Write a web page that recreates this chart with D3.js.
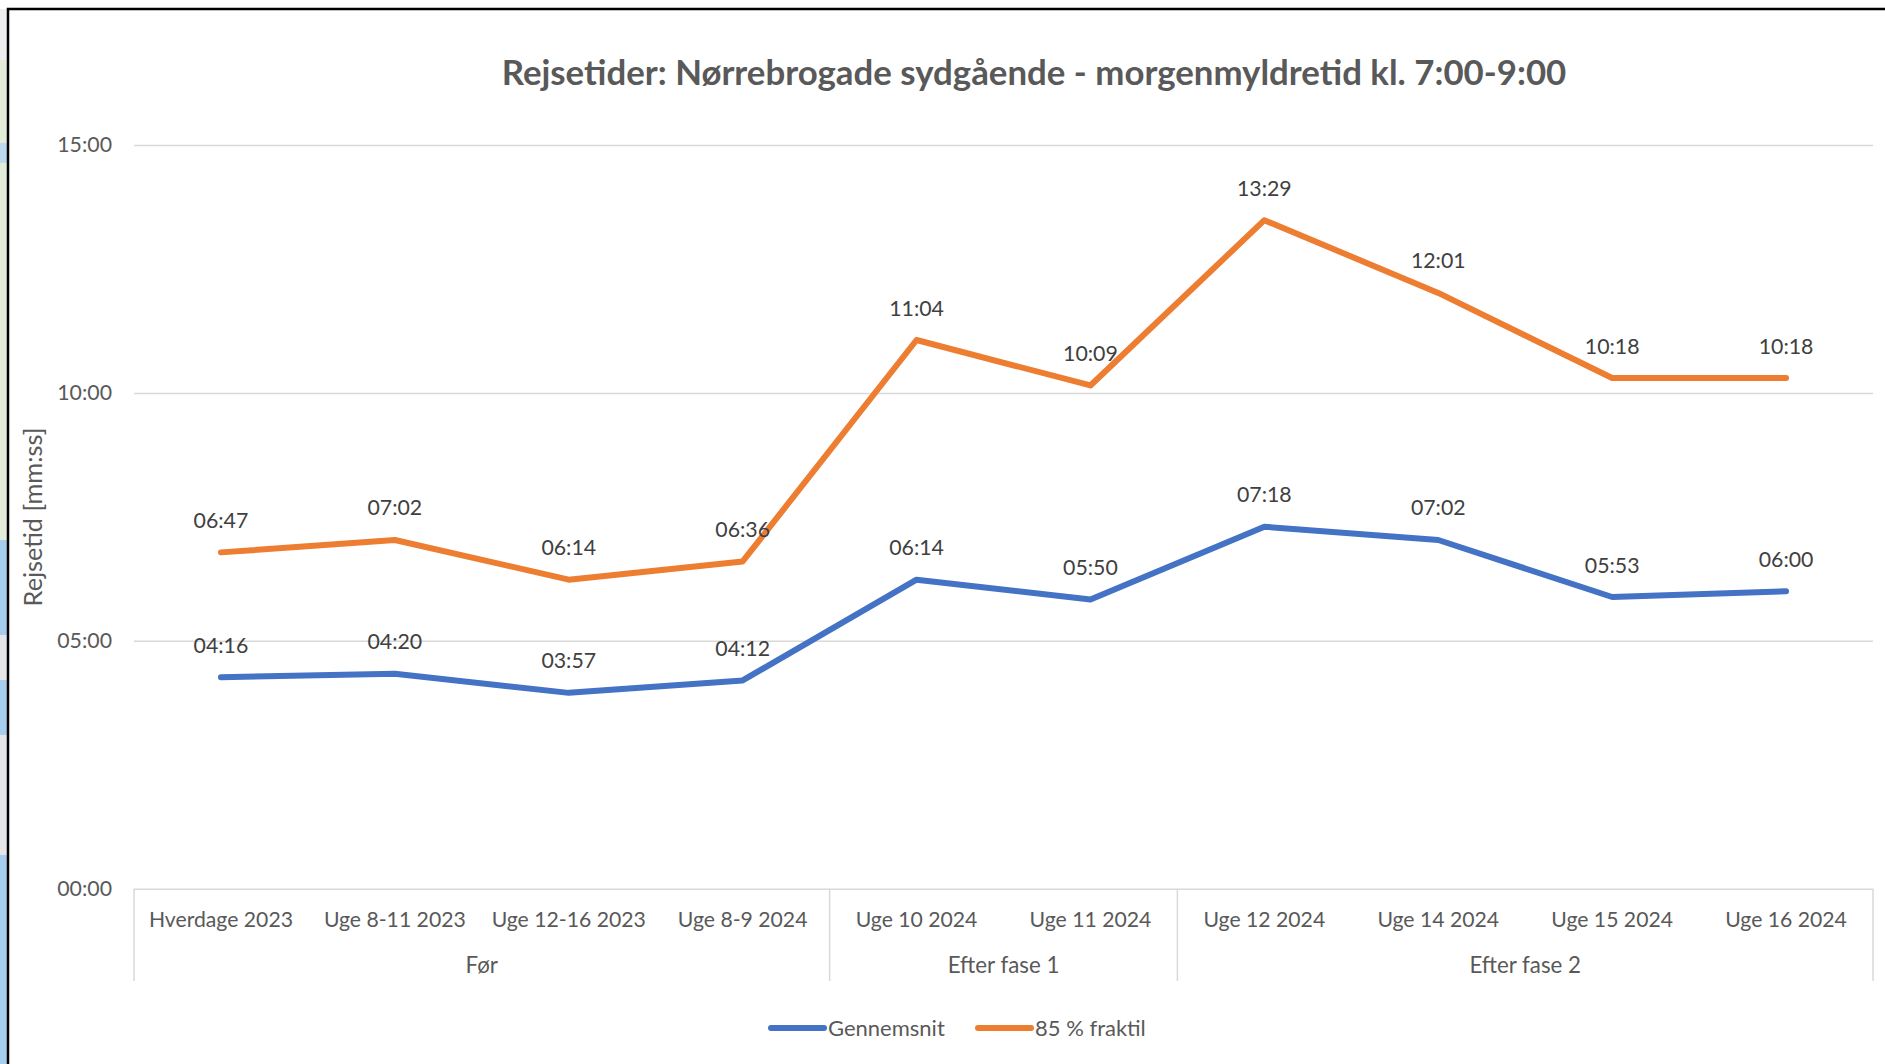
<!DOCTYPE html>
<html>
<head>
<meta charset="utf-8">
<script src="https://cdn.jsdelivr.net/npm/d3@7"></script>
<style>
  html, body { margin: 0; padding: 0; background: #fff; }
  svg { display: block; }
  text { font-family: Lato, "Noto Sans", sans-serif; }
</style>
</head>
<body>
<svg></svg>
<script>
const width = 1885
const height = 1064

const categories = ['Hverdage 2023', 'Uge 8-11 2023', 'Uge 12-16 2023', 'Uge 8-9 2024', 'Uge 10 2024',
    'Uge 11 2024', 'Uge 12 2024', 'Uge 14 2024', 'Uge 15 2024', 'Uge 16 2024']

const groups = ['Før', 'Efter fase 1', 'Efter fase 2']
const groupSizes = [4, 2, 4]

// values as mm:ss, same as the labels on the chart
const gennemsnit = ['04:16', '04:20', '03:57', '04:12', '06:14', '05:50', '07:18', '07:02', '05:53', '06:00']
const fraktil = ['06:47', '07:02', '06:14', '06:36', '11:04', '10:09', '13:29', '12:01', '10:18', '10:18']

const yTicks = ['00:00', '05:00', '10:00', '15:00']

const toSeconds = s => {
    const [m, sec] = s.split(':').map(Number)
    return m * 60 + sec
}

const series = [
    { name: 'Gennemsnit', values: gennemsnit, color: '#4472c4' },
    { name: '85 % fraktil', values: fraktil, color: '#ed7d31' }
]

// the map showing behind the screenshot, left of the frame
const backdrop = [
    [9, 60, '#eeeef1'], [60, 143, '#e3ecd9'], [143, 163, '#bcd9ee'], [163, 540, '#e3ecd9'],
    [540, 635, '#a6cdec'], [635, 680, '#e6e6e8'], [680, 735, '#a6cdec'], [735, 855, '#e6e6e8'],
    [855, 1064, '#a6cdec']
]

const plot = { left: 134, right: 1873, top: 145, bottom: 888.7, axisBottom: 981 }

const svg = d3.select('svg')
    .attr('width', width)
    .attr('height', height)
    .attr('viewBox', [0, 0, width, height])

svg.append('g').selectAll('rect')
    .data(backdrop)
    .enter()
    .append('rect')
    .attr('x', 0)
    .attr('y', d => d[0])
    .attr('width', 8)
    .attr('height', d => d[1] - d[0])
    .attr('fill', d => d[2])

// black frame of the screenshot
svg.append('path')
    .attr('d', d3.line()([[8, height], [8, 9], [width, 9]]))
    .attr('fill', 'none')
    .attr('stroke', '#000')
    .attr('stroke-width', 2.5)

const x = d3.scaleBand()
    .domain(categories)
    .range([plot.left, plot.right])

const y = d3.scaleLinear()
    .domain([0, 900])
    .range([plot.bottom, plot.top])

// y axis + gridlines
const yAxis = svg.append('g')
    .attr('transform', `translate(${plot.left},0)`)
    .call(d3.axisLeft(y)
        .tickValues(yTicks.map(toSeconds))
        .tickFormat((d, i) => yTicks[i])
        .tickSize(-(plot.right - plot.left))
        .tickPadding(22))

yAxis.select('.domain').remove()
yAxis.selectAll('line').attr('stroke', '#d9d9d9').attr('stroke-width', 1.5)
yAxis.selectAll('text')
    .attr('fill', '#595959')
    .style('font-size', '21.3px')

// category labels
const xAxis = svg.append('g')
    .attr('transform', `translate(0,${plot.bottom})`)
    .call(d3.axisBottom(x).tickSize(0).tickPadding(23))

xAxis.select('.domain').remove()
xAxis.selectAll('text')
    .attr('fill', '#595959')
    .style('font-size', '21.2px')

// group separators and labels
let start = 0
const groupSpans = groupSizes.map((n, i) => {
    const span = { name: groups[i], x0: plot.left + start * x.bandwidth(), x1: plot.left + (start + n) * x.bandwidth() }
    start += n
    return span
})

const separators = [plot.left].concat(groupSpans.map(d => d.x1))

svg.append('g').selectAll('line')
    .data(separators)
    .enter()
    .append('line')
    .attr('x1', d => d)
    .attr('x2', d => d)
    .attr('y1', plot.bottom)
    .attr('y2', plot.axisBottom)
    .attr('stroke', '#d9d9d9')
    .attr('stroke-width', 1.5)

svg.append('g').selectAll('text')
    .data(groupSpans)
    .enter()
    .append('text')
    .attr('x', d => (d.x0 + d.x1) / 2)
    .attr('y', 973)
    .attr('text-anchor', 'middle')
    .attr('fill', '#595959')
    .style('font-size', '22.3px')
    .text(d => d.name)

// lines
const line = d3.line()
    .x((d, i) => x(categories[i]) + x.bandwidth() / 2)
    .y(d => y(toSeconds(d)))

svg.append('g').selectAll('path')
    .data(series)
    .enter()
    .append('path')
    .attr('d', d => line(d.values))
    .attr('fill', 'none')
    .attr('stroke', d => d.color)
    .attr('stroke-width', 6)
    .attr('stroke-linecap', 'round')
    .attr('stroke-linejoin', 'round')

// data labels
series.forEach(s => {
    svg.append('g').selectAll('text')
        .data(s.values)
        .enter()
        .append('text')
        .attr('x', (d, i) => x(categories[i]) + x.bandwidth() / 2)
        .attr('y', d => y(toSeconds(d)) - 24.5)
        .attr('text-anchor', 'middle')
        .attr('fill', '#404040')
        .style('font-size', '21.3px')
        .text(d => d)
})

// title
svg.append('text')
    .attr('x', 1034)
    .attr('y', 85)
    .attr('text-anchor', 'middle')
    .attr('fill', '#595959')
    .style('font-size', '34.8px')
    .style('font-weight', 700)
    .text('Rejsetider: Nørrebrogade sydgående - morgenmyldretid kl. 7:00-9:00')

// y axis title
svg.append('text')
    .attr('transform', 'translate(42,517) rotate(-90)')
    .attr('text-anchor', 'middle')
    .attr('fill', '#595959')
    .style('font-size', '25.3px')
    .text('Rejsetid [mm:ss]')

// legend
const legendX = d3.scaleOrdinal()
    .domain(series.map(d => d.name))
    .range([769, 976])

const legend = svg.append('g').selectAll('g')
    .data(series)
    .enter()
    .append('g')
    .attr('transform', d => `translate(${legendX(d.name)},1028)`)

legend.append('line')
    .attr('x1', 2)
    .attr('x2', 55)
    .attr('stroke', d => d.color)
    .attr('stroke-width', 6)
    .attr('stroke-linecap', 'round')

legend.append('text')
    .attr('x', 59)
    .attr('y', 8)
    .attr('fill', '#595959')
    .style('font-size', '22px')
    .text(d => d.name)
</script>
</body>
</html>
